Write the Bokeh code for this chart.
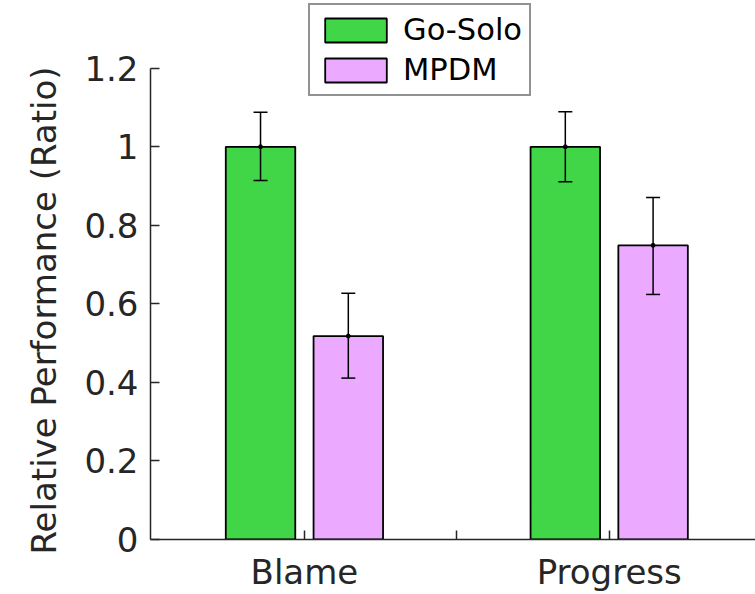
from bokeh.plotting import figure
from bokeh.models import ColumnDataSource, Whisker, FixedTicker, Legend, LegendItem, TeeHead, Title
from bokeh.transform import dodge
from bokeh.embed import file_html
from bokeh.resources import INLINE

categories = ["Blame", "Progress"]
go_solo = [1.0, 1.0]
go_solo_lo = [0.914, 0.911]
go_solo_hi = [1.088, 1.089]
mpdm = [0.518, 0.749]
mpdm_lo = [0.411, 0.624]
mpdm_hi = [0.627, 0.871]
y_ticks = [0, 0.2, 0.4, 0.6, 0.8, 1.0, 1.2]
y_tick_labels = ["0", "0.2", "0.4", "0.6", "0.8", "1", "1.2"]
y_label = "Relative Performance (Ratio)"

xpos = [i + 1 for i in range(len(categories))]
src = ColumnDataSource(dict(x=xpos, g=go_solo, glo=go_solo_lo, ghi=go_solo_hi,
                            m=mpdm, mlo=mpdm_lo, mhi=mpdm_hi))

FONT = "DejaVu Sans"
TXT = "#262626"
GREEN = "#41d647"
PINK = "#ebaaff"
OFF = 0.144
BW = 0.228

p = figure(width=755, height=594, output_backend="svg", toolbar_location=None,
           x_range=(0.495, 2.48), y_range=(0, 1.3725),
           min_border_left=150, min_border_top=0, min_border_bottom=53, min_border_right=0)
p.outline_line_color = None
p.xgrid.visible = False
p.ygrid.visible = False
p.background_fill_color = "white"
p.border_fill_color = "white"

rg = p.vbar(x=dodge("x", -OFF), top="g", width=BW, source=src, fill_color=GREEN,
            line_color="black", line_width=1.8)
rm = p.vbar(x=dodge("x", OFF), top="m", width=BW, source=src, fill_color=PINK,
            line_color="black", line_width=1.8)

for col, lo, hi in (("g", "glo", "ghi"), ("m", "mlo", "mhi")):
    off = -OFF if col == "g" else OFF
    w = Whisker(base=dodge("x", off), lower=lo, upper=hi, source=src, level="overlay",
                line_color="black", line_width=1.5,
                upper_head=TeeHead(size=14, line_color="black", line_width=1.5),
                lower_head=TeeHead(size=14, line_color="black", line_width=1.5))
    p.add_layout(w)
    p.scatter(x=dodge("x", off), y=col, source=src, size=4, color="black", level="overlay")

# axes
p.xaxis.ticker = FixedTicker(ticks=[1, 1.5, 2])
p.xaxis.major_label_overrides = {1: categories[0], 1.5: "", 2: categories[1]}
p.yaxis.ticker = FixedTicker(ticks=y_ticks)
p.yaxis.major_label_overrides = {t: l for t, l in zip(y_ticks, y_tick_labels)}
p.yaxis.bounds = (0, 1.2)
for ax in (p.xaxis, p.yaxis):
    ax.axis_line_color = TXT
    ax.axis_line_width = 1.5
    ax.major_tick_line_color = TXT
    ax.major_tick_line_width = 1.5
    ax.major_tick_in = 9
    ax.major_tick_out = 0
    ax.minor_tick_line_color = None
    ax.major_label_text_font = FONT
    ax.major_label_text_font_size = "34px"
    ax.major_label_text_color = TXT
p.yaxis.major_label_standoff = 12
p.xaxis.major_label_standoff = 12

ytitle = Title(text=y_label, align="left", offset=-15, standoff=36,
               text_font=FONT, text_font_size="34px", text_font_style="normal",
               text_color=TXT)
p.add_layout(ytitle, "left")

legend = Legend(items=[LegendItem(label="Go-Solo", renderers=[rg]),
                       LegendItem(label="MPDM", renderers=[rm])],
                location=(158, 443), orientation="vertical",
                glyph_width=77, glyph_height=30, label_height=30,
                spacing=5, padding=7, margin=0, label_standoff=9,
                label_text_font=FONT, label_text_font_size="30.5px", label_text_color="black",
                border_line_color=TXT, border_line_width=2, background_fill_alpha=1)
p.add_layout(legend, "center")

open("out.html", "w").write(file_html(p, INLINE))
